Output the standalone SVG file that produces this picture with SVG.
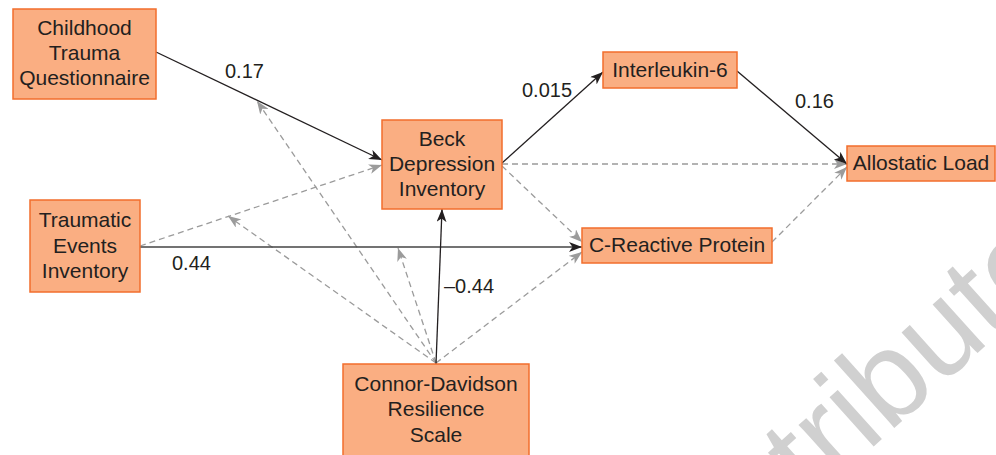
<svg xmlns="http://www.w3.org/2000/svg" width="996" height="455" viewBox="0 0 996 455">
<style>
.box{fill:#FAAE82;stroke:#F26E2C;stroke-width:1.5}
.nt{font-family:"Liberation Sans",Arial,sans-serif;font-size:21px;fill:#231F20;text-anchor:middle}
.lbl{font-family:"Liberation Sans",Arial,sans-serif;font-size:20px;fill:#231F20}
.solid{fill:none;stroke:#231F20;stroke-width:1.3}
.solid2{fill:none;stroke:#444;stroke-width:1.7}
.dash{fill:none;stroke:#9B9B9B;stroke-width:1.3;stroke-dasharray:6 4}
.wm{font-family:"Liberation Sans",Arial,sans-serif;font-size:125px;fill:#D0D0D0}
</style>
<defs>
<marker id="ah" markerUnits="userSpaceOnUse" markerWidth="14" markerHeight="10" refX="13" refY="5" orient="auto">
<path d="M0,0 L13,5 L0,10 L3.5,5 z" fill="#231F20"/>
</marker>
<marker id="ahg" markerUnits="userSpaceOnUse" markerWidth="14" markerHeight="10" refX="13" refY="5" orient="auto">
<path d="M0,0 L13,5 L0,10 L3.5,5 z" fill="#9B9B9B"/>
</marker>
</defs>
<rect width="996" height="455" fill="#fff"/>
<text class="wm" transform="translate(692,610) rotate(-42)">distribute</text>
<g id="connectors">
<path class="dash" d="M140,246 L382,165" marker-end="url(#ahg)"/>
<path class="dash" d="M502,164 L847,164" marker-end="url(#ahg)"/>
<path class="dash" d="M502,166 L582,242" marker-end="url(#ahg)"/>
<path class="dash" d="M772,242 L847,167" marker-end="url(#ahg)"/>
<path class="dash" d="M436,363 L257,101" marker-end="url(#ahg)"/>
<path class="dash" d="M436,363 L228,216" marker-end="url(#ahg)"/>
<path class="dash" d="M436,363 L398,248" marker-end="url(#ahg)"/>
<path class="dash" d="M436,363 L582,252" marker-end="url(#ahg)"/>
<path class="solid" d="M156,52 L382,160" marker-end="url(#ah)"/>
<path class="solid2" d="M140,247 L582,247" marker-end="url(#ah)"/>
<path class="solid" d="M502,163 L603,72" marker-end="url(#ah)"/>
<path class="solid" d="M737,71 L847,164" marker-end="url(#ah)"/>
<path class="solid" d="M436,364 L442,209" marker-end="url(#ah)"/>
<text class="lbl" x="225" y="78">0.17</text>
<text class="lbl" x="522" y="97">0.015</text>
<text class="lbl" x="795" y="108">0.16</text>
<text class="lbl" x="172" y="270">0.44</text>
<text class="lbl" x="444" y="293">–0.44</text>
</g>
<g id="ctq">
<rect class="box" x="13" y="9" width="143" height="90"/>
<text class="nt" x="84.5" y="35">Childhood</text>
<text class="nt" x="84.5" y="60">Trauma</text>
<text class="nt" x="84.5" y="85">Questionnaire</text>
</g>
<g id="tei">
<rect class="box" x="30" y="200" width="110" height="92"/>
<text class="nt" x="85" y="227">Traumatic</text>
<text class="nt" x="85" y="253">Events</text>
<text class="nt" x="85" y="278">Inventory</text>
</g>
<g id="bdi">
<rect class="box" x="382" y="120" width="120" height="89"/>
<text class="nt" x="442" y="146">Beck</text>
<text class="nt" x="442" y="171">Depression</text>
<text class="nt" x="442" y="196">Inventory</text>
</g>
<g id="cdrs">
<rect class="box" x="343" y="364" width="186" height="100"/>
<text class="nt" x="436" y="391">Connor-Davidson</text>
<text class="nt" x="436" y="416">Resilience</text>
<text class="nt" x="436" y="442">Scale</text>
</g>
<g id="il6">
<rect class="box" x="603" y="52" width="134" height="36"/>
<text class="nt" x="670" y="77">Interleukin-6</text>
</g>
<g id="crp">
<rect class="box" x="582" y="228" width="190" height="35"/>
<text class="nt" x="677" y="252">C-Reactive Protein</text>
</g>
<g id="al">
<rect class="box" x="847" y="146" width="148" height="35"/>
<text class="nt" x="921" y="170">Allostatic Load</text>
</g>
</svg>
